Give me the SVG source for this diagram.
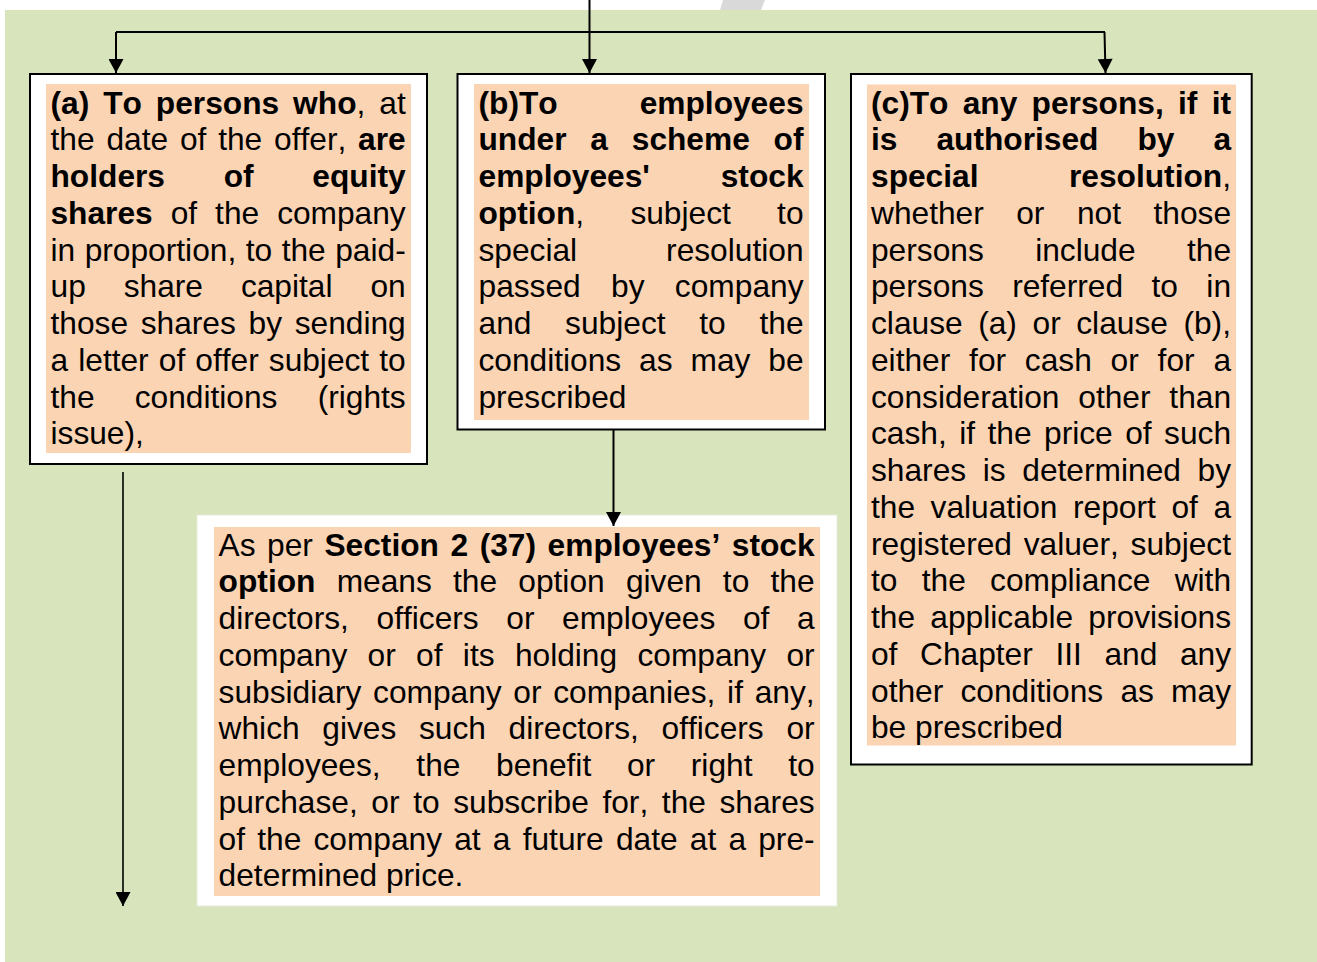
<svg xmlns="http://www.w3.org/2000/svg" width="1317" height="962" viewBox="0 0 1317 962">
<style>
text{font-family:"Liberation Sans",Arial,sans-serif;font-size:31.7px;fill:#000;font-kerning:none}
.b{font-weight:bold}
.box{fill:#fff;stroke:#000;stroke-width:2}
.hl{fill:#FBD4B4}
.con{fill:none;stroke:#000;stroke-width:2}
</style>
<defs>
<marker id="arr" markerUnits="userSpaceOnUse" markerWidth="15" markerHeight="15" viewBox="0 0 14 15" refX="14" refY="7.5" orient="auto">
<path d="M0,0 L14,7.5 L0,15 z" fill="#000"/>
</marker>
</defs>
<rect x="0" y="0" width="1317" height="962" fill="#fff"/>
<rect x="5" y="10" width="1312" height="952" fill="#D7E4BC"/>
<polygon points="723,0 765,0 761,10 720,10" fill="#d9d9d9"/>

<g id="node-a">
<rect class="box" x="30" y="74" width="397" height="390"/>
<rect class="hl" x="46" y="84" width="365" height="369"/>
<text x="50.5" y="113.5" textLength="355.2" lengthAdjust="spacing" style="word-spacing:5.1px"><tspan class="b">(a) To persons who</tspan>, at</text>
<text x="50.5" y="150.25" textLength="355.2" lengthAdjust="spacing" style="word-spacing:3px">the date of the offer, <tspan class="b">are</tspan></text>
<text x="50.5" y="187" textLength="355.2" lengthAdjust="spacing" class="b" style="word-spacing:49.9px">holders of equity</text>
<text x="50.5" y="223.75" textLength="355.2" lengthAdjust="spacing" style="word-spacing:9.2px"><tspan class="b">shares</tspan> of the company</text>
<text x="50.5" y="260.5" textLength="355.2" lengthAdjust="spacing" style="word-spacing:0.7px">in proportion, to the paid-</text>
<text x="50.5" y="297.25" textLength="355.2" lengthAdjust="spacing" style="word-spacing:29.1px">up share capital on</text>
<text x="50.5" y="334" textLength="355.2" lengthAdjust="spacing" style="word-spacing:3.9px">those shares by sending</text>
<text x="50.5" y="370.75" textLength="355.2" lengthAdjust="spacing" style="word-spacing:1.3px">a letter of offer subject to</text>
<text x="50.5" y="407.5" textLength="355.2" lengthAdjust="spacing" style="word-spacing:31.4px">the conditions (rights</text>
<text x="50.5" y="444.25">issue),</text>
</g>

<g id="node-b">
<rect class="box" x="457.5" y="74" width="367.5" height="355.5"/>
<rect class="hl" x="474" y="84" width="335" height="336"/>
<text x="478.5" y="113.5" textLength="325" lengthAdjust="spacing" class="b" style="word-spacing:73.1px">(b)To employees</text>
<text x="478.5" y="150.25" textLength="325" lengthAdjust="spacing" class="b" style="word-spacing:15px">under a scheme of</text>
<text x="478.5" y="187" textLength="325" lengthAdjust="spacing" class="b" style="word-spacing:62px">employees' stock</text>
<text x="478.5" y="223.75" textLength="325" lengthAdjust="spacing" style="word-spacing:37.4px"><tspan class="b">option</tspan>, subject to</text>
<text x="478.5" y="260.5" textLength="325" lengthAdjust="spacing" style="word-spacing:80.1px">special resolution</text>
<text x="478.5" y="297.25" textLength="325" lengthAdjust="spacing" style="word-spacing:21.5px">passed by company</text>
<text x="478.5" y="334" textLength="325" lengthAdjust="spacing" style="word-spacing:24.9px">and subject to the</text>
<text x="478.5" y="370.75" textLength="325" lengthAdjust="spacing" style="word-spacing:9.1px">conditions as may be</text>
<text x="478.5" y="407.5">prescribed</text>
</g>

<g id="node-c">
<rect class="box" x="851" y="74" width="400.7" height="690.5"/>
<rect class="hl" x="867" y="84.5" width="369" height="661"/>
<text x="871" y="113.5" textLength="360" lengthAdjust="spacing" class="b" style="word-spacing:5.45px">(c)To any persons, if it</text>
<text x="871" y="150.25" textLength="360" lengthAdjust="spacing" class="b" style="word-spacing:30.2px">is authorised by a</text>
<text x="871" y="187" textLength="360" lengthAdjust="spacing" style="word-spacing:81.6px"><tspan class="b">special resolution</tspan>,</text>
<text x="871" y="223.75" textLength="360" lengthAdjust="spacing" style="word-spacing:23.7px">whether or not those</text>
<text x="871" y="260.5" textLength="360" lengthAdjust="spacing" style="word-spacing:42.6px">persons include the</text>
<text x="871" y="297.25" textLength="360" lengthAdjust="spacing" style="word-spacing:19.6px">persons referred to in</text>
<text x="871" y="334" textLength="360" lengthAdjust="spacing" style="word-spacing:6.75px">clause (a) or clause (b),</text>
<text x="871" y="370.75" textLength="360" lengthAdjust="spacing" style="word-spacing:10px">either for cash or for a</text>
<text x="871" y="407.5" textLength="360" lengthAdjust="spacing" style="word-spacing:10px">consideration other than</text>
<text x="871" y="444.25" textLength="360" lengthAdjust="spacing" style="word-spacing:3.6px">cash, if the price of such</text>
<text x="871" y="481" textLength="360" lengthAdjust="spacing" style="word-spacing:7.8px">shares is determined by</text>
<text x="871" y="517.75" textLength="360" lengthAdjust="spacing" style="word-spacing:6.75px">the valuation report of a</text>
<text x="871" y="554.5" textLength="360" lengthAdjust="spacing" style="word-spacing:2.9px">registered valuer, subject</text>
<text x="871" y="591.25" textLength="360" lengthAdjust="spacing" style="word-spacing:15.5px">to the compliance with</text>
<text x="871" y="628" textLength="360" lengthAdjust="spacing" style="word-spacing:6.5px">the applicable provisions</text>
<text x="871" y="664.75" textLength="360" lengthAdjust="spacing" style="word-spacing:13.8px">of Chapter III and any</text>
<text x="871" y="701.5" textLength="360" lengthAdjust="spacing" style="word-spacing:8.4px">other conditions as may</text>
<text x="871" y="738.25">be prescribed</text>
</g>

<g id="node-d">
<rect x="197" y="515" width="640" height="391" fill="#fff" stroke="#e6ecd8" stroke-width="1"/>
<rect class="hl" x="214" y="527" width="606" height="369"/>
<text x="218.6" y="555.7" textLength="596" lengthAdjust="spacing" style="word-spacing:2.7px">As per <tspan class="b">Section 2 (37) employees’ stock</tspan></text>
<text x="218.6" y="592.45" textLength="596" lengthAdjust="spacing" style="word-spacing:12.4px"><tspan class="b">option</tspan> means the option given to the</text>
<text x="218.6" y="629.2" textLength="596" lengthAdjust="spacing" style="word-spacing:18.8px">directors, officers or employees of a</text>
<text x="218.6" y="665.95" textLength="596" lengthAdjust="spacing" style="word-spacing:11.5px">company or of its holding company or</text>
<text x="218.6" y="702.7" textLength="596" lengthAdjust="spacing" style="word-spacing:2.9px">subsidiary company or companies, if any,</text>
<text x="218.6" y="739.45" textLength="596" lengthAdjust="spacing" style="word-spacing:13.9px">which gives such directors, officers or</text>
<text x="218.6" y="776.2" textLength="596" lengthAdjust="spacing" style="word-spacing:26.9px">employees, the benefit or right to</text>
<text x="218.6" y="812.95" textLength="596" lengthAdjust="spacing" style="word-spacing:4.8px">purchase, or to subscribe for, the shares</text>
<text x="218.6" y="849.7" textLength="596" lengthAdjust="spacing" style="word-spacing:3.4px">of the company at a future date at a pre-</text>
<text x="218.6" y="886.45">determined price.</text>
</g>

<g id="connectors">
<path class="con" d="M589.5,0 V32"/>
<path class="con" d="M116,32 H1105"/>
<path class="con" d="M116,32 V73" marker-end="url(#arr)"/>
<path class="con" d="M589.5,32 V73" marker-end="url(#arr)"/>
<path class="con" d="M1104.5,32 L1105.5,73" marker-end="url(#arr)"/>
<path class="con" d="M613.5,430 V526" marker-end="url(#arr)"/>
<path class="con" d="M123,472 V906" marker-end="url(#arr)" style="stroke-width:1.6"/>
</g>
</svg>
